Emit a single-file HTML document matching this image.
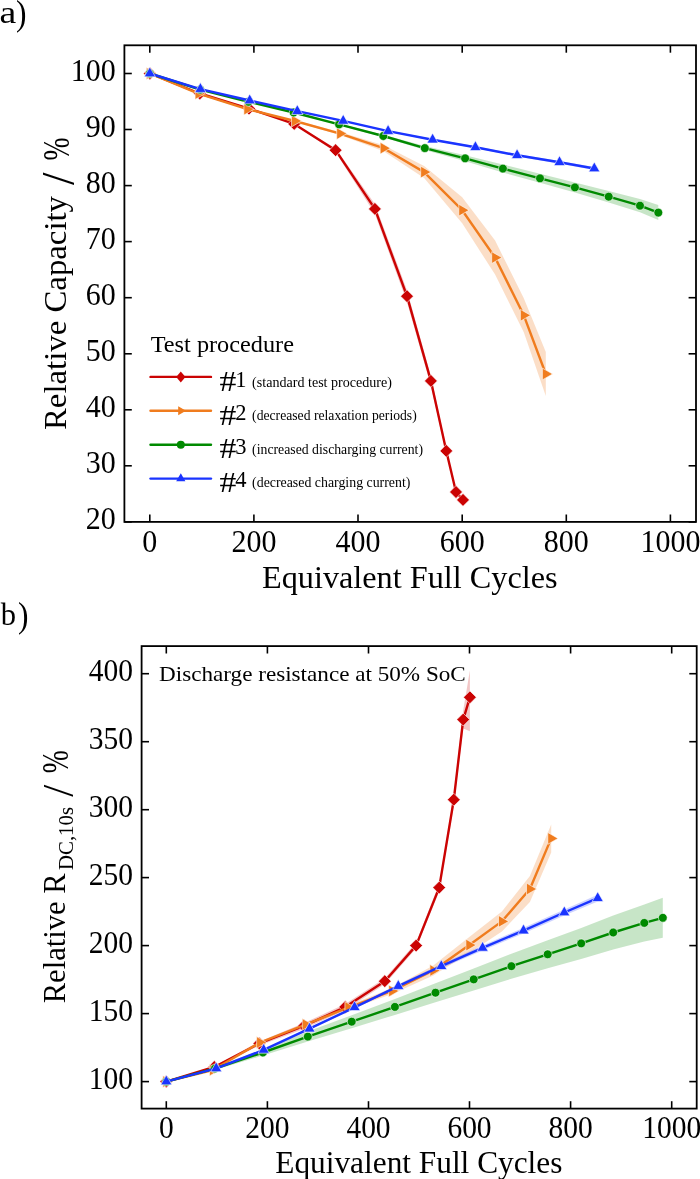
<!DOCTYPE html>
<html><head><meta charset="utf-8"><style>
html,body{margin:0;padding:0;background:#fff;}
svg{display:block;will-change:transform;}
text{font-family:"Liberation Serif",serif;fill:#000;}
</style></head><body>
<svg width="700" height="1179" viewBox="0 0 700 1179">
<rect width="700" height="1179" fill="#fff"/>
<polygon points="149.8,73.5 199.8,93.5 249.0,108.6 294.2,123.4 335.6,148.2 374.9,203.9 407.0,290.2 430.9,375.9 446.3,447.9 456.0,490.0 463.0,498.9 463.0,500.9 456.0,494.0 446.3,453.9 430.9,385.9 407.0,302.2 374.9,213.9 335.6,152.2 294.2,124.4 249.0,108.6 199.8,93.5 149.8,73.5" fill="rgba(200,0,0,0.22)" stroke="none"/>
<polygon points="149.8,73.5 198.5,93.6 247.3,108.9 294.9,120.3 340.1,132.1 383.6,145.2 424.1,166.1 462.2,197.2 495.1,240.6 523.8,298.3 545.8,352.0 545.8,396.0 523.8,332.3 495.1,274.6 462.2,223.2 424.1,178.1 383.6,151.2 340.1,135.1 294.9,121.7 247.3,109.5 198.5,93.6 149.8,73.5" fill="rgba(240,124,30,0.25)" stroke="none"/>
<polygon points="149.8,73.5 200.2,89.6 248.5,101.5 293.7,112.0 339.1,123.6 383.3,134.8 424.8,146.1 465.1,155.3 502.9,164.6 540.0,173.8 574.9,182.4 608.7,190.9 640.0,199.1 658.3,205.1 658.3,220.1 640.0,212.3 608.7,202.5 574.9,192.4 540.0,182.8 502.9,172.6 465.1,161.3 424.8,150.1 383.3,137.2 339.1,125.2 293.7,113.0 248.5,102.1 200.2,89.6 149.8,73.5" fill="rgba(0,138,0,0.22)" stroke="none"/>
<polygon points="149.8,73.5 200.4,89.1 249.7,100.5 297.3,110.9 343.2,120.4 388.1,130.4 432.6,138.8 475.4,146.3 517.1,154.1 559.5,160.9 594.3,167.0 594.3,170.0 559.5,163.7 517.1,156.5 475.4,148.3 432.6,140.6 388.1,131.8 343.2,121.4 297.3,111.5 249.7,100.5 200.4,89.1 149.8,73.5" fill="rgba(26,52,255,0.22)" stroke="none"/>
<polyline points="149.8,73.5 199.8,93.5 249.0,108.6 294.2,123.9 335.6,150.2 374.9,208.9 407.0,296.2 430.9,380.9 446.3,450.9 456.0,492.0 463.0,499.9" fill="none" stroke="#cb0303" stroke-width="2.4" stroke-linejoin="round" stroke-linecap="round"/>
<polygon points="149.8,67.1 156.2,73.5 149.8,79.9 143.4,73.5" fill="#cb0303" stroke="#fff" stroke-width="0.6"/>
<polygon points="199.8,87.1 206.2,93.5 199.8,99.9 193.4,93.5" fill="#cb0303" stroke="#fff" stroke-width="0.6"/>
<polygon points="249.0,102.2 255.4,108.6 249.0,115.0 242.6,108.6" fill="#cb0303" stroke="#fff" stroke-width="0.6"/>
<polygon points="294.2,117.5 300.6,123.9 294.2,130.3 287.8,123.9" fill="#cb0303" stroke="#fff" stroke-width="0.6"/>
<polygon points="335.6,143.8 342.0,150.2 335.6,156.6 329.2,150.2" fill="#cb0303" stroke="#fff" stroke-width="0.6"/>
<polygon points="374.9,202.5 381.3,208.9 374.9,215.3 368.5,208.9" fill="#cb0303" stroke="#fff" stroke-width="0.6"/>
<polygon points="407.0,289.8 413.4,296.2 407.0,302.6 400.6,296.2" fill="#cb0303" stroke="#fff" stroke-width="0.6"/>
<polygon points="430.9,374.5 437.3,380.9 430.9,387.3 424.5,380.9" fill="#cb0303" stroke="#fff" stroke-width="0.6"/>
<polygon points="446.3,444.5 452.7,450.9 446.3,457.3 439.9,450.9" fill="#cb0303" stroke="#fff" stroke-width="0.6"/>
<polygon points="456.0,485.6 462.4,492.0 456.0,498.4 449.6,492.0" fill="#cb0303" stroke="#fff" stroke-width="0.6"/>
<polygon points="463.0,493.5 469.4,499.9 463.0,506.3 456.6,499.9" fill="#cb0303" stroke="#fff" stroke-width="0.6"/>
<polyline points="149.8,73.5 198.5,93.6 247.3,109.2 294.9,121.0 340.1,133.6 383.6,148.2 424.1,172.1 462.2,210.2 495.1,257.6 523.8,315.3 545.8,374.0" fill="none" stroke="#f07c1e" stroke-width="2.4" stroke-linejoin="round" stroke-linecap="round"/>
<polygon points="156.6,73.5 146.4,67.6 146.4,79.4" fill="#f07c1e" stroke="#fff" stroke-width="0.6"/>
<polygon points="205.3,93.6 195.1,87.7 195.1,99.5" fill="#f07c1e" stroke="#fff" stroke-width="0.6"/>
<polygon points="254.1,109.2 243.9,103.3 243.9,115.1" fill="#f07c1e" stroke="#fff" stroke-width="0.6"/>
<polygon points="301.7,121.0 291.5,115.1 291.5,126.9" fill="#f07c1e" stroke="#fff" stroke-width="0.6"/>
<polygon points="346.9,133.6 336.7,127.7 336.7,139.5" fill="#f07c1e" stroke="#fff" stroke-width="0.6"/>
<polygon points="390.4,148.2 380.2,142.3 380.2,154.1" fill="#f07c1e" stroke="#fff" stroke-width="0.6"/>
<polygon points="430.9,172.1 420.7,166.2 420.7,178.0" fill="#f07c1e" stroke="#fff" stroke-width="0.6"/>
<polygon points="469.0,210.2 458.8,204.3 458.8,216.1" fill="#f07c1e" stroke="#fff" stroke-width="0.6"/>
<polygon points="501.9,257.6 491.7,251.7 491.7,263.5" fill="#f07c1e" stroke="#fff" stroke-width="0.6"/>
<polygon points="530.6,315.3 520.4,309.4 520.4,321.2" fill="#f07c1e" stroke="#fff" stroke-width="0.6"/>
<polygon points="552.6,374.0 542.4,368.1 542.4,379.9" fill="#f07c1e" stroke="#fff" stroke-width="0.6"/>
<polyline points="149.8,73.5 200.2,89.6 248.5,101.8 293.7,112.5 339.1,124.4 383.3,136.0 424.8,148.1 465.1,158.3 502.9,168.6 540.0,178.3 574.9,187.4 608.7,196.7 640.0,205.7 658.3,212.6" fill="none" stroke="#008a00" stroke-width="2.4" stroke-linejoin="round" stroke-linecap="round"/>
<circle cx="149.8" cy="73.5" r="4.4" fill="#008a00" stroke="#fff" stroke-width="0.6"/>
<circle cx="200.2" cy="89.6" r="4.4" fill="#008a00" stroke="#fff" stroke-width="0.6"/>
<circle cx="248.5" cy="101.8" r="4.4" fill="#008a00" stroke="#fff" stroke-width="0.6"/>
<circle cx="293.7" cy="112.5" r="4.4" fill="#008a00" stroke="#fff" stroke-width="0.6"/>
<circle cx="339.1" cy="124.4" r="4.4" fill="#008a00" stroke="#fff" stroke-width="0.6"/>
<circle cx="383.3" cy="136.0" r="4.4" fill="#008a00" stroke="#fff" stroke-width="0.6"/>
<circle cx="424.8" cy="148.1" r="4.4" fill="#008a00" stroke="#fff" stroke-width="0.6"/>
<circle cx="465.1" cy="158.3" r="4.4" fill="#008a00" stroke="#fff" stroke-width="0.6"/>
<circle cx="502.9" cy="168.6" r="4.4" fill="#008a00" stroke="#fff" stroke-width="0.6"/>
<circle cx="540.0" cy="178.3" r="4.4" fill="#008a00" stroke="#fff" stroke-width="0.6"/>
<circle cx="574.9" cy="187.4" r="4.4" fill="#008a00" stroke="#fff" stroke-width="0.6"/>
<circle cx="608.7" cy="196.7" r="4.4" fill="#008a00" stroke="#fff" stroke-width="0.6"/>
<circle cx="640.0" cy="205.7" r="4.4" fill="#008a00" stroke="#fff" stroke-width="0.6"/>
<circle cx="658.3" cy="212.6" r="4.4" fill="#008a00" stroke="#fff" stroke-width="0.6"/>
<polyline points="149.8,73.5 200.4,89.1 249.7,100.5 297.3,111.2 343.2,120.9 388.1,131.1 432.6,139.7 475.4,147.3 517.1,155.3 559.5,162.3 594.3,168.5" fill="none" stroke="#1a34ff" stroke-width="2.4" stroke-linejoin="round" stroke-linecap="round"/>
<polygon points="149.8,67.0 155.4,76.8 144.2,76.8" fill="#1a34ff" stroke="#fff" stroke-width="0.6"/>
<polygon points="200.4,82.6 206.0,92.4 194.8,92.4" fill="#1a34ff" stroke="#fff" stroke-width="0.6"/>
<polygon points="249.7,94.0 255.3,103.8 244.1,103.8" fill="#1a34ff" stroke="#fff" stroke-width="0.6"/>
<polygon points="297.3,104.7 302.9,114.5 291.7,114.5" fill="#1a34ff" stroke="#fff" stroke-width="0.6"/>
<polygon points="343.2,114.4 348.8,124.2 337.6,124.2" fill="#1a34ff" stroke="#fff" stroke-width="0.6"/>
<polygon points="388.1,124.6 393.7,134.4 382.5,134.4" fill="#1a34ff" stroke="#fff" stroke-width="0.6"/>
<polygon points="432.6,133.2 438.2,143.0 427.0,143.0" fill="#1a34ff" stroke="#fff" stroke-width="0.6"/>
<polygon points="475.4,140.8 481.0,150.6 469.8,150.6" fill="#1a34ff" stroke="#fff" stroke-width="0.6"/>
<polygon points="517.1,148.8 522.7,158.6 511.5,158.6" fill="#1a34ff" stroke="#fff" stroke-width="0.6"/>
<polygon points="559.5,155.8 565.1,165.6 553.9,165.6" fill="#1a34ff" stroke="#fff" stroke-width="0.6"/>
<polygon points="594.3,162.0 599.9,171.8 588.7,171.8" fill="#1a34ff" stroke="#fff" stroke-width="0.6"/>
<rect x="124.4" y="45.3" width="571.6" height="476.6" fill="none" stroke="#000" stroke-width="1.8"/>
<line x1="149.8" y1="521.9" x2="149.8" y2="514.5" stroke="#000" stroke-width="1.6"/>
<line x1="149.8" y1="45.3" x2="149.8" y2="52.699999999999996" stroke="#000" stroke-width="1.6"/>
<line x1="253.9" y1="521.9" x2="253.9" y2="514.5" stroke="#000" stroke-width="1.6"/>
<line x1="253.9" y1="45.3" x2="253.9" y2="52.699999999999996" stroke="#000" stroke-width="1.6"/>
<line x1="358.0" y1="521.9" x2="358.0" y2="514.5" stroke="#000" stroke-width="1.6"/>
<line x1="358.0" y1="45.3" x2="358.0" y2="52.699999999999996" stroke="#000" stroke-width="1.6"/>
<line x1="462.2" y1="521.9" x2="462.2" y2="514.5" stroke="#000" stroke-width="1.6"/>
<line x1="462.2" y1="45.3" x2="462.2" y2="52.699999999999996" stroke="#000" stroke-width="1.6"/>
<line x1="566.3" y1="521.9" x2="566.3" y2="514.5" stroke="#000" stroke-width="1.6"/>
<line x1="566.3" y1="45.3" x2="566.3" y2="52.699999999999996" stroke="#000" stroke-width="1.6"/>
<line x1="670.4" y1="521.9" x2="670.4" y2="514.5" stroke="#000" stroke-width="1.6"/>
<line x1="670.4" y1="45.3" x2="670.4" y2="52.699999999999996" stroke="#000" stroke-width="1.6"/>
<line x1="124.4" y1="521.9" x2="131.8" y2="521.9" stroke="#000" stroke-width="1.6"/>
<line x1="696.0" y1="521.9" x2="688.6" y2="521.9" stroke="#000" stroke-width="1.6"/>
<line x1="124.4" y1="465.8" x2="131.8" y2="465.8" stroke="#000" stroke-width="1.6"/>
<line x1="696.0" y1="465.8" x2="688.6" y2="465.8" stroke="#000" stroke-width="1.6"/>
<line x1="124.4" y1="409.8" x2="131.8" y2="409.8" stroke="#000" stroke-width="1.6"/>
<line x1="696.0" y1="409.8" x2="688.6" y2="409.8" stroke="#000" stroke-width="1.6"/>
<line x1="124.4" y1="353.8" x2="131.8" y2="353.8" stroke="#000" stroke-width="1.6"/>
<line x1="696.0" y1="353.8" x2="688.6" y2="353.8" stroke="#000" stroke-width="1.6"/>
<line x1="124.4" y1="297.7" x2="131.8" y2="297.7" stroke="#000" stroke-width="1.6"/>
<line x1="696.0" y1="297.7" x2="688.6" y2="297.7" stroke="#000" stroke-width="1.6"/>
<line x1="124.4" y1="241.6" x2="131.8" y2="241.6" stroke="#000" stroke-width="1.6"/>
<line x1="696.0" y1="241.6" x2="688.6" y2="241.6" stroke="#000" stroke-width="1.6"/>
<line x1="124.4" y1="185.6" x2="131.8" y2="185.6" stroke="#000" stroke-width="1.6"/>
<line x1="696.0" y1="185.6" x2="688.6" y2="185.6" stroke="#000" stroke-width="1.6"/>
<line x1="124.4" y1="129.5" x2="131.8" y2="129.5" stroke="#000" stroke-width="1.6"/>
<line x1="696.0" y1="129.5" x2="688.6" y2="129.5" stroke="#000" stroke-width="1.6"/>
<line x1="124.4" y1="73.5" x2="131.8" y2="73.5" stroke="#000" stroke-width="1.6"/>
<line x1="696.0" y1="73.5" x2="688.6" y2="73.5" stroke="#000" stroke-width="1.6"/>
<text transform="translate(149.8,551.6) scale(1,1.07)" font-size="30" text-anchor="middle">0</text>
<text transform="translate(253.9,551.6) scale(1,1.07)" font-size="30" text-anchor="middle">200</text>
<text transform="translate(358.0,551.6) scale(1,1.07)" font-size="30" text-anchor="middle">400</text>
<text transform="translate(462.2,551.6) scale(1,1.07)" font-size="30" text-anchor="middle">600</text>
<text transform="translate(566.3,551.6) scale(1,1.07)" font-size="30" text-anchor="middle">800</text>
<text transform="translate(670.4,551.6) scale(1,1.07)" font-size="30" text-anchor="middle">1000</text>
<text transform="translate(115.8,528.9) scale(1,1.07)" font-size="30" text-anchor="end">20</text>
<text transform="translate(115.8,472.8) scale(1,1.07)" font-size="30" text-anchor="end">30</text>
<text transform="translate(115.8,416.8) scale(1,1.07)" font-size="30" text-anchor="end">40</text>
<text transform="translate(115.8,360.8) scale(1,1.07)" font-size="30" text-anchor="end">50</text>
<text transform="translate(115.8,304.7) scale(1,1.07)" font-size="30" text-anchor="end">60</text>
<text transform="translate(115.8,248.6) scale(1,1.07)" font-size="30" text-anchor="end">70</text>
<text transform="translate(115.8,192.6) scale(1,1.07)" font-size="30" text-anchor="end">80</text>
<text transform="translate(115.8,136.5) scale(1,1.07)" font-size="30" text-anchor="end">90</text>
<text transform="translate(115.8,80.5) scale(1,1.07)" font-size="30" text-anchor="end">100</text>
<text transform="translate(-0.5,23) scale(1.2,0.97)" font-size="31.5">a</text>
<text transform="translate(16,24.5) scale(1,1.16)" font-size="31.5">)</text>
<text transform="translate(66,430) rotate(-90) scale(1,1.06)" font-size="30" textLength="234" lengthAdjust="spacingAndGlyphs">Relative Capacity</text>
<text transform="translate(74.3,185) rotate(-90) scale(1.49,1.53)" font-size="30">/</text>
<text transform="translate(69.4,160.5) rotate(-90) scale(0.92,1.28)" font-size="30">%</text>
<text transform="translate(262,587.6) scale(1,1.06)" font-size="30" textLength="295.6" lengthAdjust="spacingAndGlyphs">Equivalent Full Cycles</text>
<text transform="translate(150.7,351.9)" font-size="22.5" textLength="143.3" lengthAdjust="spacingAndGlyphs">Test procedure</text>
<line x1="150.5" y1="376.9" x2="211" y2="376.9" stroke="#cb0303" stroke-width="2.4" stroke-linecap="round"/>
<polygon points="180.8,371.4 185.4,376.9 180.8,382.4 176.2,376.9" fill="#cb0303"/>
<text transform="translate(219.6,391.0) scale(1.5,1.27)" font-size="22.5">#</text>
<text transform="translate(235.3,386.6)" font-size="22.5">1</text>
<text transform="translate(252.1,386.6)" font-size="14.2" textLength="139.9" lengthAdjust="spacingAndGlyphs">(standard test procedure)</text>
<line x1="150.5" y1="410.8" x2="211" y2="410.8" stroke="#f07c1e" stroke-width="2.4" stroke-linecap="round"/>
<polygon points="186.0,410.8 178.2,406.3 178.2,415.3" fill="#f07c1e"/>
<text transform="translate(219.6,424.6) scale(1.5,1.27)" font-size="22.5">#</text>
<text transform="translate(235.3,420.2)" font-size="22.5">2</text>
<text transform="translate(252.1,420.2)" font-size="14.2" textLength="164.6" lengthAdjust="spacingAndGlyphs">(decreased relaxation periods)</text>
<line x1="150.5" y1="444.7" x2="211" y2="444.7" stroke="#008a00" stroke-width="2.4" stroke-linecap="round"/>
<circle cx="180.8" cy="444.7" r="4.0" fill="#008a00"/>
<text transform="translate(219.6,458.2) scale(1.5,1.27)" font-size="22.5">#</text>
<text transform="translate(235.3,453.8)" font-size="22.5">3</text>
<text transform="translate(252.1,453.8)" font-size="14.2" textLength="170.9" lengthAdjust="spacingAndGlyphs">(increased discharging current)</text>
<line x1="150.5" y1="478.6" x2="211" y2="478.6" stroke="#1a34ff" stroke-width="2.4" stroke-linecap="round"/>
<polygon points="180.8,473.3 185.4,481.2 176.2,481.2" fill="#1a34ff"/>
<text transform="translate(219.6,491.8) scale(1.5,1.27)" font-size="22.5">#</text>
<text transform="translate(235.3,487.4)" font-size="22.5">4</text>
<text transform="translate(252.1,487.4)" font-size="14.2" textLength="158.3" lengthAdjust="spacingAndGlyphs">(decreased charging current)</text>
<polygon points="166.3,1081.6 214.3,1066.0 259.4,1041.5 304.0,1023.0 345.2,1004.0 384.8,978.2 416.1,942.6 439.2,883.6 453.8,794.7 463.2,710.6 469.9,670.3 469.9,731.3 463.2,728.6 453.8,804.7 439.2,891.6 416.1,948.6 384.8,984.2 345.2,1010.0 304.0,1029.0 259.4,1045.5 214.3,1068.0 166.3,1081.6" fill="rgba(200,0,0,0.22)" stroke="none"/>
<polygon points="166.3,1081.6 212.9,1069.5 260.0,1041.5 305.7,1023.0 348.3,1005.5 392.1,988.0 433.3,965.5 469.3,937.1 501.9,911.4 529.9,876.0 551.2,824.4 551.2,852.4 529.9,902.0 501.9,931.4 469.3,953.1 433.3,975.5 392.1,994.0 348.3,1009.5 305.7,1026.0 260.0,1043.5 212.9,1070.5 166.3,1081.6" fill="rgba(240,124,30,0.25)" stroke="none"/>
<polygon points="166.3,1081.6 215.0,1067.0 262.9,1049.5 307.8,1031.6 351.7,1015.2 394.9,998.9 435.5,983.2 473.7,968.4 511.4,953.7 547.7,940.3 581.2,927.9 613.2,915.5 644.3,904.4 662.8,897.8 662.8,937.8 644.3,941.4 613.2,949.5 581.2,958.9 547.7,968.3 511.4,978.7 473.7,990.4 435.5,1002.2 394.9,1014.9 351.7,1028.2 307.8,1041.6 262.9,1055.5 215.0,1070.0 166.3,1081.6" fill="rgba(0,138,0,0.22)" stroke="none"/>
<polygon points="166.3,1081.6 216.2,1068.1 263.7,1049.3 309.5,1027.7 354.6,1006.0 398.3,984.4 441.3,964.1 482.6,945.4 523.5,927.8 564.3,909.4 597.7,894.8 597.7,901.6 564.3,915.6 523.5,933.4 482.6,950.4 441.3,968.3 398.3,987.8 354.6,1008.6 309.5,1029.7 263.7,1050.5 216.2,1068.7 166.3,1081.6" fill="rgba(26,52,255,0.22)" stroke="none"/>
<polyline points="166.3,1081.6 214.3,1067.0 259.4,1043.5 304.0,1026.0 345.2,1007.0 384.8,981.2 416.1,945.6 439.2,887.6 453.8,799.7 463.2,719.6 469.9,697.3" fill="none" stroke="#cb0303" stroke-width="2.4" stroke-linejoin="round" stroke-linecap="round"/>
<polygon points="166.3,1075.2 172.7,1081.6 166.3,1088.0 159.9,1081.6" fill="#cb0303" stroke="#fff" stroke-width="0.6"/>
<polygon points="214.3,1060.6 220.7,1067.0 214.3,1073.4 207.9,1067.0" fill="#cb0303" stroke="#fff" stroke-width="0.6"/>
<polygon points="259.4,1037.1 265.8,1043.5 259.4,1049.9 253.0,1043.5" fill="#cb0303" stroke="#fff" stroke-width="0.6"/>
<polygon points="304.0,1019.6 310.4,1026.0 304.0,1032.4 297.6,1026.0" fill="#cb0303" stroke="#fff" stroke-width="0.6"/>
<polygon points="345.2,1000.6 351.6,1007.0 345.2,1013.4 338.8,1007.0" fill="#cb0303" stroke="#fff" stroke-width="0.6"/>
<polygon points="384.8,974.8 391.2,981.2 384.8,987.6 378.4,981.2" fill="#cb0303" stroke="#fff" stroke-width="0.6"/>
<polygon points="416.1,939.2 422.5,945.6 416.1,952.0 409.7,945.6" fill="#cb0303" stroke="#fff" stroke-width="0.6"/>
<polygon points="439.2,881.2 445.6,887.6 439.2,894.0 432.8,887.6" fill="#cb0303" stroke="#fff" stroke-width="0.6"/>
<polygon points="453.8,793.3 460.2,799.7 453.8,806.1 447.4,799.7" fill="#cb0303" stroke="#fff" stroke-width="0.6"/>
<polygon points="463.2,713.2 469.6,719.6 463.2,726.0 456.8,719.6" fill="#cb0303" stroke="#fff" stroke-width="0.6"/>
<polygon points="469.9,690.9 476.3,697.3 469.9,703.7 463.5,697.3" fill="#cb0303" stroke="#fff" stroke-width="0.6"/>
<polyline points="166.3,1081.6 212.9,1070.0 260.0,1042.5 305.7,1024.5 348.3,1007.5 392.1,991.0 433.3,970.5 469.3,945.1 501.9,921.4 529.9,889.0 551.2,838.4" fill="none" stroke="#f07c1e" stroke-width="2.4" stroke-linejoin="round" stroke-linecap="round"/>
<polygon points="173.1,1081.6 162.9,1075.7 162.9,1087.5" fill="#f07c1e" stroke="#fff" stroke-width="0.6"/>
<polygon points="219.7,1070.0 209.5,1064.1 209.5,1075.9" fill="#f07c1e" stroke="#fff" stroke-width="0.6"/>
<polygon points="266.8,1042.5 256.6,1036.6 256.6,1048.4" fill="#f07c1e" stroke="#fff" stroke-width="0.6"/>
<polygon points="312.5,1024.5 302.3,1018.6 302.3,1030.4" fill="#f07c1e" stroke="#fff" stroke-width="0.6"/>
<polygon points="355.1,1007.5 344.9,1001.6 344.9,1013.4" fill="#f07c1e" stroke="#fff" stroke-width="0.6"/>
<polygon points="398.9,991.0 388.7,985.1 388.7,996.9" fill="#f07c1e" stroke="#fff" stroke-width="0.6"/>
<polygon points="440.1,970.5 429.9,964.6 429.9,976.4" fill="#f07c1e" stroke="#fff" stroke-width="0.6"/>
<polygon points="476.1,945.1 465.9,939.2 465.9,951.0" fill="#f07c1e" stroke="#fff" stroke-width="0.6"/>
<polygon points="508.7,921.4 498.5,915.5 498.5,927.3" fill="#f07c1e" stroke="#fff" stroke-width="0.6"/>
<polygon points="536.7,889.0 526.5,883.1 526.5,894.9" fill="#f07c1e" stroke="#fff" stroke-width="0.6"/>
<polygon points="558.0,838.4 547.8,832.5 547.8,844.3" fill="#f07c1e" stroke="#fff" stroke-width="0.6"/>
<polyline points="166.3,1081.6 215.0,1068.5 262.9,1052.5 307.8,1036.6 351.7,1021.7 394.9,1006.9 435.5,992.7 473.7,979.4 511.4,966.2 547.7,954.3 581.2,943.4 613.2,932.5 644.3,922.9 662.8,917.8" fill="none" stroke="#008a00" stroke-width="2.4" stroke-linejoin="round" stroke-linecap="round"/>
<circle cx="166.3" cy="1081.6" r="4.4" fill="#008a00" stroke="#fff" stroke-width="0.6"/>
<circle cx="215.0" cy="1068.5" r="4.4" fill="#008a00" stroke="#fff" stroke-width="0.6"/>
<circle cx="262.9" cy="1052.5" r="4.4" fill="#008a00" stroke="#fff" stroke-width="0.6"/>
<circle cx="307.8" cy="1036.6" r="4.4" fill="#008a00" stroke="#fff" stroke-width="0.6"/>
<circle cx="351.7" cy="1021.7" r="4.4" fill="#008a00" stroke="#fff" stroke-width="0.6"/>
<circle cx="394.9" cy="1006.9" r="4.4" fill="#008a00" stroke="#fff" stroke-width="0.6"/>
<circle cx="435.5" cy="992.7" r="4.4" fill="#008a00" stroke="#fff" stroke-width="0.6"/>
<circle cx="473.7" cy="979.4" r="4.4" fill="#008a00" stroke="#fff" stroke-width="0.6"/>
<circle cx="511.4" cy="966.2" r="4.4" fill="#008a00" stroke="#fff" stroke-width="0.6"/>
<circle cx="547.7" cy="954.3" r="4.4" fill="#008a00" stroke="#fff" stroke-width="0.6"/>
<circle cx="581.2" cy="943.4" r="4.4" fill="#008a00" stroke="#fff" stroke-width="0.6"/>
<circle cx="613.2" cy="932.5" r="4.4" fill="#008a00" stroke="#fff" stroke-width="0.6"/>
<circle cx="644.3" cy="922.9" r="4.4" fill="#008a00" stroke="#fff" stroke-width="0.6"/>
<circle cx="662.8" cy="917.8" r="4.4" fill="#008a00" stroke="#fff" stroke-width="0.6"/>
<polyline points="166.3,1081.6 216.2,1068.4 263.7,1049.9 309.5,1028.7 354.6,1007.3 398.3,986.1 441.3,966.2 482.6,947.9 523.5,930.6 564.3,912.5 597.7,898.2" fill="none" stroke="#1a34ff" stroke-width="2.4" stroke-linejoin="round" stroke-linecap="round"/>
<polygon points="166.3,1075.1 171.9,1084.8 160.7,1084.8" fill="#1a34ff" stroke="#fff" stroke-width="0.6"/>
<polygon points="216.2,1061.9 221.8,1071.7 210.6,1071.7" fill="#1a34ff" stroke="#fff" stroke-width="0.6"/>
<polygon points="263.7,1043.4 269.3,1053.2 258.1,1053.2" fill="#1a34ff" stroke="#fff" stroke-width="0.6"/>
<polygon points="309.5,1022.2 315.1,1032.0 303.9,1032.0" fill="#1a34ff" stroke="#fff" stroke-width="0.6"/>
<polygon points="354.6,1000.8 360.2,1010.6 349.0,1010.6" fill="#1a34ff" stroke="#fff" stroke-width="0.6"/>
<polygon points="398.3,979.6 403.9,989.4 392.7,989.4" fill="#1a34ff" stroke="#fff" stroke-width="0.6"/>
<polygon points="441.3,959.7 446.9,969.5 435.7,969.5" fill="#1a34ff" stroke="#fff" stroke-width="0.6"/>
<polygon points="482.6,941.4 488.2,951.2 477.0,951.2" fill="#1a34ff" stroke="#fff" stroke-width="0.6"/>
<polygon points="523.5,924.1 529.1,933.9 517.9,933.9" fill="#1a34ff" stroke="#fff" stroke-width="0.6"/>
<polygon points="564.3,906.0 569.9,915.8 558.7,915.8" fill="#1a34ff" stroke="#fff" stroke-width="0.6"/>
<polygon points="597.7,891.7 603.3,901.5 592.1,901.5" fill="#1a34ff" stroke="#fff" stroke-width="0.6"/>
<rect x="141.6" y="646.1" width="555.1" height="462.5" fill="none" stroke="#000" stroke-width="1.8"/>
<line x1="166.3" y1="1108.6" x2="166.3" y2="1101.1999999999998" stroke="#000" stroke-width="1.6"/>
<line x1="166.3" y1="646.1" x2="166.3" y2="653.5" stroke="#000" stroke-width="1.6"/>
<line x1="267.4" y1="1108.6" x2="267.4" y2="1101.1999999999998" stroke="#000" stroke-width="1.6"/>
<line x1="267.4" y1="646.1" x2="267.4" y2="653.5" stroke="#000" stroke-width="1.6"/>
<line x1="368.5" y1="1108.6" x2="368.5" y2="1101.1999999999998" stroke="#000" stroke-width="1.6"/>
<line x1="368.5" y1="646.1" x2="368.5" y2="653.5" stroke="#000" stroke-width="1.6"/>
<line x1="469.5" y1="1108.6" x2="469.5" y2="1101.1999999999998" stroke="#000" stroke-width="1.6"/>
<line x1="469.5" y1="646.1" x2="469.5" y2="653.5" stroke="#000" stroke-width="1.6"/>
<line x1="570.6" y1="1108.6" x2="570.6" y2="1101.1999999999998" stroke="#000" stroke-width="1.6"/>
<line x1="570.6" y1="646.1" x2="570.6" y2="653.5" stroke="#000" stroke-width="1.6"/>
<line x1="671.7" y1="1108.6" x2="671.7" y2="1101.1999999999998" stroke="#000" stroke-width="1.6"/>
<line x1="671.7" y1="646.1" x2="671.7" y2="653.5" stroke="#000" stroke-width="1.6"/>
<line x1="141.6" y1="1081.6" x2="149.0" y2="1081.6" stroke="#000" stroke-width="1.6"/>
<line x1="696.7" y1="1081.6" x2="689.3000000000001" y2="1081.6" stroke="#000" stroke-width="1.6"/>
<line x1="141.6" y1="1013.6" x2="149.0" y2="1013.6" stroke="#000" stroke-width="1.6"/>
<line x1="696.7" y1="1013.6" x2="689.3000000000001" y2="1013.6" stroke="#000" stroke-width="1.6"/>
<line x1="141.6" y1="945.6" x2="149.0" y2="945.6" stroke="#000" stroke-width="1.6"/>
<line x1="696.7" y1="945.6" x2="689.3000000000001" y2="945.6" stroke="#000" stroke-width="1.6"/>
<line x1="141.6" y1="877.6" x2="149.0" y2="877.6" stroke="#000" stroke-width="1.6"/>
<line x1="696.7" y1="877.6" x2="689.3000000000001" y2="877.6" stroke="#000" stroke-width="1.6"/>
<line x1="141.6" y1="809.7" x2="149.0" y2="809.7" stroke="#000" stroke-width="1.6"/>
<line x1="696.7" y1="809.7" x2="689.3000000000001" y2="809.7" stroke="#000" stroke-width="1.6"/>
<line x1="141.6" y1="741.7" x2="149.0" y2="741.7" stroke="#000" stroke-width="1.6"/>
<line x1="696.7" y1="741.7" x2="689.3000000000001" y2="741.7" stroke="#000" stroke-width="1.6"/>
<line x1="141.6" y1="673.7" x2="149.0" y2="673.7" stroke="#000" stroke-width="1.6"/>
<line x1="696.7" y1="673.7" x2="689.3000000000001" y2="673.7" stroke="#000" stroke-width="1.6"/>
<text transform="translate(166.3,1137.8) scale(1,1.06)" font-size="29.5" text-anchor="middle">0</text>
<text transform="translate(267.4,1137.8) scale(1,1.06)" font-size="29.5" text-anchor="middle">200</text>
<text transform="translate(368.5,1137.8) scale(1,1.06)" font-size="29.5" text-anchor="middle">400</text>
<text transform="translate(469.5,1137.8) scale(1,1.06)" font-size="29.5" text-anchor="middle">600</text>
<text transform="translate(570.6,1137.8) scale(1,1.06)" font-size="29.5" text-anchor="middle">800</text>
<text transform="translate(671.7,1137.8) scale(1,1.06)" font-size="29.5" text-anchor="middle">1000</text>
<text transform="translate(133.0,1088.9) scale(1,1.06)" font-size="29.5" text-anchor="end">100</text>
<text transform="translate(133.0,1020.9) scale(1,1.06)" font-size="29.5" text-anchor="end">150</text>
<text transform="translate(133.0,952.9) scale(1,1.06)" font-size="29.5" text-anchor="end">200</text>
<text transform="translate(133.0,884.9) scale(1,1.06)" font-size="29.5" text-anchor="end">250</text>
<text transform="translate(133.0,817.0) scale(1,1.06)" font-size="29.5" text-anchor="end">300</text>
<text transform="translate(133.0,749.0) scale(1,1.06)" font-size="29.5" text-anchor="end">350</text>
<text transform="translate(133.0,681.0) scale(1,1.06)" font-size="29.5" text-anchor="end">400</text>
<text transform="translate(0.8,624.7)" font-size="30.5">b</text>
<text transform="translate(17.9,626.5) scale(1,1.16)" font-size="31.5">)</text>
<text transform="translate(159,681.2)" font-size="21.5" textLength="306.8" lengthAdjust="spacingAndGlyphs">Discharge resistance at 50% SoC</text>
<text transform="translate(275.3,1172.6) scale(1,1.06)" font-size="29.5" textLength="287.1" lengthAdjust="spacingAndGlyphs">Equivalent Full Cycles</text>
<text transform="translate(65.3,1003.3) rotate(-90) scale(1,1.05)" font-size="30" textLength="129.9" lengthAdjust="spacingAndGlyphs">Relative R</text>
<text transform="translate(73.2,870.0) rotate(-90)" font-size="21" textLength="63" lengthAdjust="spacingAndGlyphs">DC,10s</text>
<text transform="translate(72.6,796.7) rotate(-90) scale(1.44,1.47)" font-size="30">/</text>
<text transform="translate(67.7,773.2) rotate(-90) scale(0.92,1.24)" font-size="30">%</text>
</svg>
</body></html>
